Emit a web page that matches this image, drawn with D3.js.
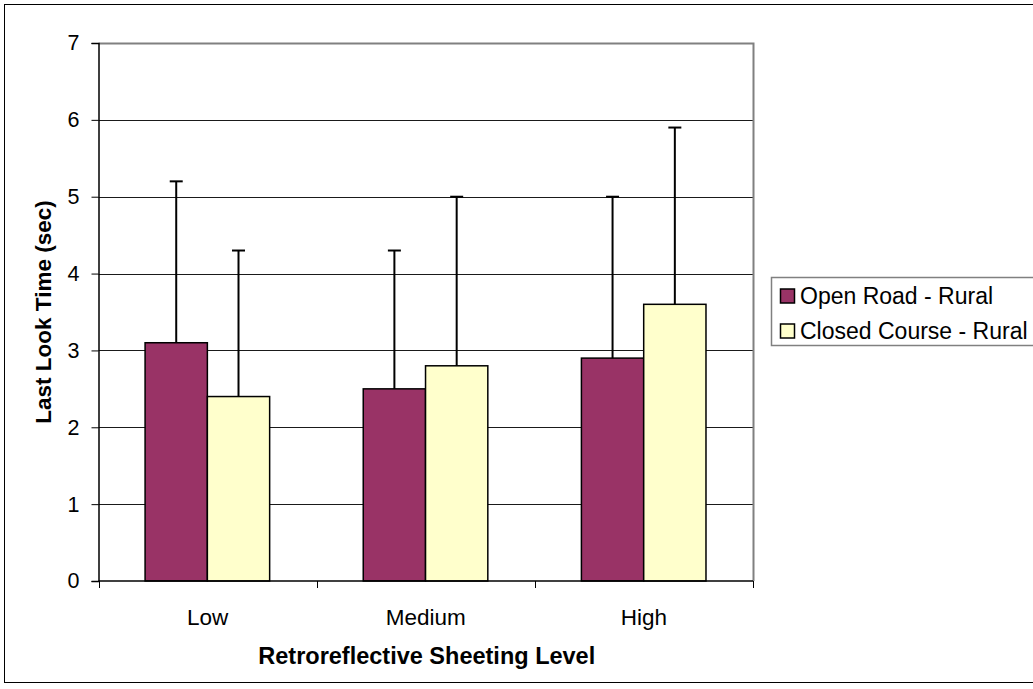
<!DOCTYPE html>
<html>
<head>
<meta charset="utf-8">
<script src="https://cdn.jsdelivr.net/npm/d3@7"></script>
<style>
  html, body { margin: 0; padding: 0; background: #fff; }
  svg { display: block; font-family: "Liberation Sans", Arial, sans-serif; }
</style>
</head>
<body>
<svg id="chart" width="1033" height="689"></svg>
<script>
const categories = ["Low", "Medium", "High"];
const seriesNames = ["Open Road - Rural", "Closed Course - Rural"];
const openRoad = [3.1, 2.5, 2.9];
const closedCourse = [2.4, 2.8, 3.6];
const openRoadErr = [2.1, 1.8, 2.1];
const closedCourseErr = [1.9, 2.2, 2.3];
const yTicks = [0, 1, 2, 3, 4, 5, 6, 7];
const colors = ["#993366", "#FFFFCC"];
const xTitle = "Retroreflective Sheeting Level";
const yTitle = "Last Look Time (sec)";

const values = [openRoad, closedCourse];
const errs = [openRoadErr, closedCourseErr];

const FONT = "Liberation Sans, Arial, sans-serif";
const svg = d3.select("#chart");
const plot = { left: 98.5, right: 753, top: 43, bottom: 581 };

// outer chart border
svg.append("rect")
  .attr("x", 4.5).attr("y", 4.5).attr("width", 1040).attr("height", 678)
  .attr("fill", "#fff").attr("stroke", "#000").attr("stroke-width", 1);

const x0 = d3.scaleBand().domain(categories).range([plot.left, plot.right]).padding(0);
const bw = x0.bandwidth();
const x1 = d3.scaleBand().domain(seriesNames).range([bw * 0.2135, bw * 0.7845]).padding(0);
const y = d3.scaleLinear().domain([0, 7]).range([plot.bottom, plot.top]);

// gridlines
svg.append("g").selectAll("line").data(yTicks.filter(t => t > 0 && t < 7)).join("line")
  .attr("x1", plot.left).attr("x2", plot.right)
  .attr("y1", d => Math.round(y(d)) + 0.5).attr("y2", d => Math.round(y(d)) + 0.5)
  .attr("stroke", "#1a1a1a").attr("stroke-width", 1);

// plot border top & right (gray)
svg.append("path")
  .attr("d", `M${plot.left},${plot.top + 0.5}H${plot.right + 0.5}V${plot.bottom}`)
  .attr("fill", "none").attr("stroke", "#808080").attr("stroke-width", 2);

// bars
const groups = svg.append("g").selectAll("g").data(categories).join("g")
  .attr("transform", d => `translate(${x0(d)},0)`);

seriesNames.forEach((s, si) => {
  groups.append("rect")
    .attr("x", () => x1(s))
    .attr("y", (d, i) => y(values[si][i]))
    .attr("width", x1.bandwidth())
    .attr("height", (d, i) => y(0) - y(values[si][i]))
    .attr("fill", colors[si])
    .attr("stroke", "#000").attr("stroke-width", 1.5);
});

// error bars
seriesNames.forEach((s, si) => {
  const cx = x1(s) + x1.bandwidth() / 2;
  groups.append("line")
    .attr("x1", cx).attr("x2", cx)
    .attr("y1", (d, i) => y(values[si][i]))
    .attr("y2", (d, i) => y(values[si][i] + errs[si][i]))
    .attr("stroke", "#000").attr("stroke-width", 2);
  groups.append("line")
    .attr("x1", cx - 6.5).attr("x2", cx + 6.5)
    .attr("y1", (d, i) => y(values[si][i] + errs[si][i]))
    .attr("y2", (d, i) => y(values[si][i] + errs[si][i]))
    .attr("stroke", "#000").attr("stroke-width", 2);
});

// y axis
const yAxis = d3.axisLeft(y).tickValues(yTicks).tickSize(7).tickPadding(12).tickFormat(d3.format("d"));
const yg = svg.append("g").attr("transform", `translate(${plot.left},0)`).call(yAxis);
yg.select(".domain").attr("stroke", "#000").attr("stroke-width", 1.5);
yg.selectAll(".tick line").attr("stroke", "#000");
yg.selectAll(".tick text").attr("font-size", 21.5).attr("fill", "#000").attr("font-family", FONT);

// x axis
const xAxis = d3.axisBottom(x0).tickSize(0).tickPadding(0);
const xg = svg.append("g").attr("transform", `translate(0,${plot.bottom})`).call(xAxis);
xg.select(".domain").attr("stroke", "#000").attr("stroke-width", 1.5).attr("d", `M${plot.left},0H${plot.right}`);
xg.selectAll(".tick text").attr("font-size", 22.5).attr("fill", "#000").attr("y", 44).attr("dy", 0)
  .attr("font-family", FONT);
// category boundary ticks
svg.append("g").selectAll("line").data(categories.map(c => x0(c)).concat([plot.right])).join("line")
  .attr("x1", d => Math.round(d) + 0.5).attr("x2", d => Math.round(d) + 0.5)
  .attr("y1", plot.bottom).attr("y2", plot.bottom + 7)
  .attr("stroke", "#000").attr("stroke-width", 1);

// axis titles
svg.append("text")
  .attr("x", (plot.left + plot.right) / 2 + 1).attr("y", 664)
  .attr("text-anchor", "middle").attr("font-size", 23.5).attr("font-weight", "bold")
  .attr("font-family", FONT)
  .text(xTitle);
svg.append("text")
  .attr("transform", `translate(51,${(plot.top + plot.bottom) / 2}) rotate(-90)`)
  .attr("text-anchor", "middle").attr("font-size", 22.5).attr("font-weight", "bold")
  .attr("font-family", FONT)
  .text(yTitle);

// legend
const lg = svg.append("g");
lg.append("rect").attr("x", 771.5).attr("y", 277.5).attr("width", 300).attr("height", 68)
  .attr("fill", "#fff").attr("stroke", "#808080").attr("stroke-width", 1.5);
seriesNames.forEach((s, si) => {
  const cy = 296 + si * 35;
  lg.append("rect").attr("x", 780.5).attr("y", cy - 7).attr("width", 14).attr("height", 14)
    .attr("fill", colors[si]).attr("stroke", "#000").attr("stroke-width", 1.5);
  lg.append("text").attr("x", 800).attr("y", cy).attr("dy", "0.35em")
    .attr("font-size", 23).attr("font-family", FONT).text(s);
});
</script>
</body>
</html>
